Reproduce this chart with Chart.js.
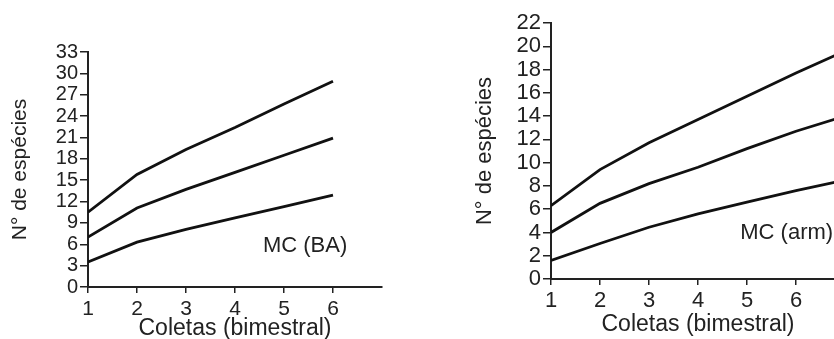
<!DOCTYPE html>
<html>
<head>
<meta charset="utf-8">
<script src="https://cdn.jsdelivr.net/npm/chart.js@4"></script>
<style>
  html, body { margin: 0; padding: 0; background: #fff; overflow: hidden; }
  body { width: 834px; height: 339px; position: relative; }
  canvas { position: absolute; top: 0; }
  #graficoBA { left: 0; }
  #graficoArm { left: 463px; }
</style>
</head>
<body>
<canvas id="graficoBA" width="400" height="339"></canvas>
<canvas id="graficoArm" width="400" height="339"></canvas>
<script>
// Coletas (eixo x)
const coletasBA = [1, 2, 3, 4, 5, 6];
const coletasArm = [1, 2, 3, 4, 5, 6, 7];

// MC (BA) - curva superior, media e inferior
const baSuperior = [10.5, 15.8, 19.3, 22.4, 25.7, 28.9];
const baMedia = [7.0, 11.1, 13.7, 16.1, 18.5, 20.9];
const baInferior = [3.5, 6.3, 8.1, 9.7, 11.3, 12.9];

// MC (arm) - curva superior, media e inferior
const armSuperior = [6.3, 9.4, 11.7, 13.7, 15.7, 17.7, 19.6];
const armMedia = [4.0, 6.5, 8.2, 9.6, 11.2, 12.7, 14.0];
const armInferior = [1.6, 3.05, 4.45, 5.6, 6.6, 7.6, 8.5];

// Escalas dos eixos
const eixoBA = { max: 33, passo: 3 };
const eixoArm = { max: 22, passo: 2 };

const corTexto = '#222';
const corLinha = '#111';
const fonte = 'Liberation Sans, Arial, sans-serif';

function serie(xs, ys) {
    return {
        data: xs.map((x, i) => ({ x: x, y: ys[i] })),
        borderColor: corLinha,
        borderWidth: 2.8,
        pointRadius: 0,
        tension: 0,
        fill: false
    };
}

// Texto "MC (...)" posicionado em coordenadas dos dados
function rotulo(texto, xv, yv, tamanho) {
    return {
        id: 'rotulo',
        afterDraw(chart) {
            const c = chart.ctx;
            c.save();
            c.font = tamanho + 'px ' + fonte;
            c.fillStyle = corTexto;
            c.textAlign = 'center';
            c.textBaseline = 'middle';
            c.fillText(texto, chart.scales.x.getPixelForValue(xv), chart.scales.y.getPixelForValue(yv));
            c.restore();
        }
    };
}

function criarGrafico(id, xs, series, eixo, opc) {
    const ctx = document.getElementById(id).getContext('2d');
    return new Chart(ctx, {
        type: 'line',
        data: { datasets: series.map(s => serie(xs, s)) },
        options: {
            responsive: false,
            animation: false,
            layout: { padding: { top: opc.topo, right: 18, left: 0, bottom: 0 } },
            plugins: { legend: { display: false }, tooltip: { enabled: false } },
            scales: {
                x: {
                    type: 'linear',
                    min: 1,
                    max: 7,
                    afterFit(s) { s.height = opc.alturaX; },
                    border: { color: '#222', width: 2 },
                    grid: {
                        drawOnChartArea: false,
                        drawTicks: true,
                        tickLength: 6,
                        lineWidth: 1.5,
                        color: c => (c.tick && c.tick.value === 7) ? 'rgba(0,0,0,0)' : '#222'
                    },
                    ticks: {
                        stepSize: 1,
                        autoSkip: false,
                        maxRotation: 0,
                        padding: opc.padX,
                        color: corTexto,
                        font: { family: fonte, size: opc.fonteX },
                        callback: v => v === 7 ? '' : v
                    },
                    title: {
                        display: true,
                        text: 'Coletas (bimestral)',
                        color: corTexto,
                        font: { family: fonte, size: 23, lineHeight: 1 },
                        padding: { top: 0, bottom: opc.tituloX }
                    }
                },
                y: {
                    min: 0,
                    max: eixo.max,
                    afterFit(s) { s.width = 88; },
                    border: { color: '#222', width: 2 },
                    grid: {
                        drawOnChartArea: false,
                        drawTicks: true,
                        tickLength: 8,
                        lineWidth: 1.5,
                        color: '#222'
                    },
                    ticks: {
                        stepSize: eixo.passo,
                        autoSkip: false,
                        padding: 2,
                        color: corTexto,
                        font: { family: fonte, size: opc.fonteY }
                    },
                    title: {
                        display: true,
                        text: 'N° de espécies',
                        color: corTexto,
                        font: { family: fonte, size: opc.fonteTituloY, lineHeight: 1 },
                        padding: { top: opc.tituloY, bottom: 0 }
                    }
                }
            }
        },
        plugins: [rotulo(opc.texto, opc.textoX, opc.textoY, opc.fonteTexto)]
    });
}

criarGrafico('graficoBA', coletasBA, [baSuperior, baMedia, baInferior], eixoBA, {
    topo: 52, alturaX: 52, fonteX: 21, fonteY: 20, padX: 4, tituloX: -1, tituloY: 10,
    fonteTituloY: 21, texto: 'MC (BA)', textoX: 5.43, textoY: 5.8, fonteTexto: 22
});

criarGrafico('graficoArm', coletasArm, [armSuperior, armMedia, armInferior], eixoArm, {
    topo: 23, alturaX: 60, fonteX: 22, fonteY: 22, padX: 3, tituloX: 2.5, tituloY: 11,
    fonteTituloY: 22, texto: 'MC (arm)', textoX: 5.81, textoY: 4.0, fonteTexto: 22
});
</script>
</body>
</html>
